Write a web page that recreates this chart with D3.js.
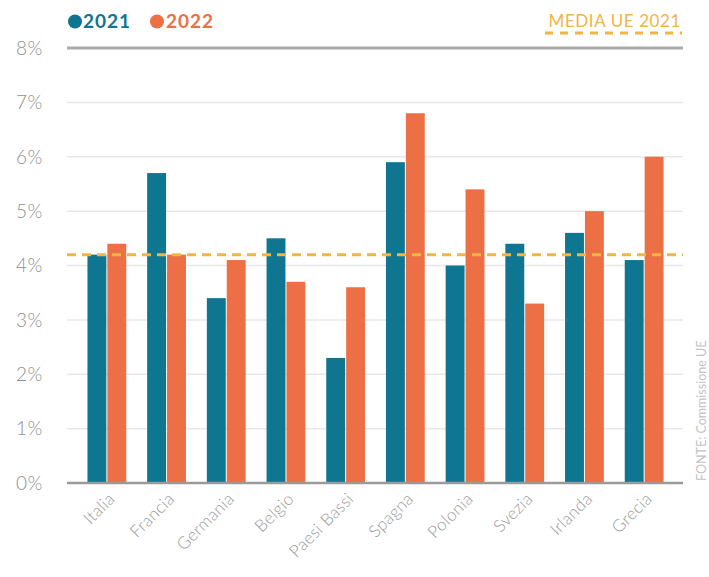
<!DOCTYPE html>
<html>
<head>
<meta charset="utf-8">
<script src="https://cdn.jsdelivr.net/npm/d3@7"></script>
<style>
  html, body { margin: 0; padding: 0; background: #fff; }
  svg { display: block; font-family: Lato, "Open Sans", sans-serif; }
</style>
</head>
<body>
<svg id="chart" width="709" height="577"></svg>
<script>
// Paesi e valori (%) per anno
const countries = ["Italia", "Francia", "Germania", "Belgio", "Paesi Bassi", "Spagna", "Polonia", "Svezia", "Irlanda", "Grecia"];
const years = ["2021", "2022"];
const values2021 = [4.2, 5.7, 3.4, 4.5, 2.3, 5.9, 4.0, 4.4, 4.6, 4.1];
const values2022 = [4.4, 4.2, 4.1, 3.7, 3.6, 6.8, 5.4, 3.3, 5.0, 6.0];
const yTicks = [0, 1, 2, 3, 4, 5, 6, 7, 8];
const mediaUE2021 = 4.2;
const colors = ["#0f7691", "#ec6f46"];
const mediaColor = "#f1b545";

const rows = countries.map((c, i) => ({ country: c, vals: [values2021[i], values2022[i]] }));

const svg = d3.select("#chart");
const plotLeft = 67, plotRight = 683, plotTop = 48, plotBottom = 483;

const x0 = d3.scaleBand().domain(countries).range([77, 674]).paddingInner(0.35).paddingOuter(0.175);
const x1 = d3.scaleBand().domain(years).range([0, x0.bandwidth()]).paddingInner(0.05);
const y = d3.scaleLinear().domain([0, 8]).range([plotBottom, plotTop]);

// griglia orizzontale
svg.append("g").selectAll("line")
  .data(yTicks.filter(t => t > 0 && t < 8))
  .join("line")
  .attr("x1", plotLeft).attr("x2", plotRight)
  .attr("y1", d => y(d)).attr("y2", d => y(d))
  .attr("stroke", "#e8e8e8").attr("stroke-width", 1.5);

// linea superiore (8%)
svg.append("line")
  .attr("x1", plotLeft).attr("x2", plotRight)
  .attr("y1", y(8)).attr("y2", y(8))
  .attr("stroke", "#ababab").attr("stroke-width", 3);

// etichette asse y
svg.append("g").selectAll("text")
  .data(yTicks)
  .join("text")
  .attr("x", 16).attr("y", d => y(d))
  .attr("dy", "0.36em")
  .attr("font-size", 19).attr("font-weight", 300)
  .attr("letter-spacing", 0.5)
  .attr("fill", "#8f8f8f")
  .text(d => d + "%");

// barre
svg.append("g").selectAll("g")
  .data(rows)
  .join("g")
  .attr("transform", d => `translate(${x0(d.country)},0)`)
  .selectAll("rect")
  .data(d => d.vals.map((v, k) => ({ year: years[k], v, k })))
  .join("rect")
  .attr("x", d => x1(d.year))
  .attr("width", x1.bandwidth())
  .attr("y", d => y(d.v))
  .attr("height", d => y(0) - y(d.v))
  .attr("fill", d => colors[d.k]);

// asse x (linea base)
svg.append("line")
  .attr("x1", plotLeft).attr("x2", plotRight)
  .attr("y1", y(0)).attr("y2", y(0))
  .attr("stroke", "#9a9a9a").attr("stroke-width", 2.5);

// media UE 2021
svg.append("line")
  .attr("x1", plotLeft).attr("x2", plotRight)
  .attr("y1", y(mediaUE2021)).attr("y2", y(mediaUE2021))
  .attr("stroke", mediaColor).attr("stroke-width", 3)
  .attr("stroke-dasharray", "9,6");

// etichette paesi ruotate
svg.append("g").selectAll("text")
  .data(countries)
  .join("text")
  .attr("transform", d => `translate(${x0(d) + x0.bandwidth() / 2 + 9},500) rotate(-45)`)
  .attr("text-anchor", "end")
  .attr("font-size", 17).attr("font-weight", 300)
  .attr("letter-spacing", 0.3)
  .attr("fill", "#9a9a9a")
  .text(d => d);

// legenda
const legend = svg.append("g");
const legendItems = [{ label: "2021", cx: 75, tx: 83 }, { label: "2022", cx: 157, tx: 166 }];
legendItems.forEach((it, k) => {
  legend.append("circle").attr("cx", it.cx).attr("cy", 21.5).attr("r", 7).attr("fill", colors[k]);
  legend.append("text").attr("x", it.tx).attr("y", 28)
    .attr("font-size", 19).attr("font-weight", 700)
    .attr("letter-spacing", 1)
    .attr("fill", colors[k]).text(it.label);
});

// legenda media
svg.append("text")
  .attr("x", 681).attr("y", 27)
  .attr("text-anchor", "end")
  .attr("font-size", 17).attr("font-weight", 400)
  .attr("letter-spacing", 0.6)
  .attr("fill", mediaColor)
  .text("MEDIA UE 2021");
svg.append("line")
  .attr("x1", 545).attr("x2", 682)
  .attr("y1", 33).attr("y2", 33)
  .attr("stroke", mediaColor).attr("stroke-width", 3)
  .attr("stroke-dasharray", "8,7");

// fonte
svg.append("text")
  .attr("transform", "translate(706,481) rotate(-90)")
  .attr("font-size", 12.5).attr("font-weight", 400)
  .attr("fill", "#c4c4c4")
  .text("FONTE: Commissione UE");
</script>
</body>
</html>
